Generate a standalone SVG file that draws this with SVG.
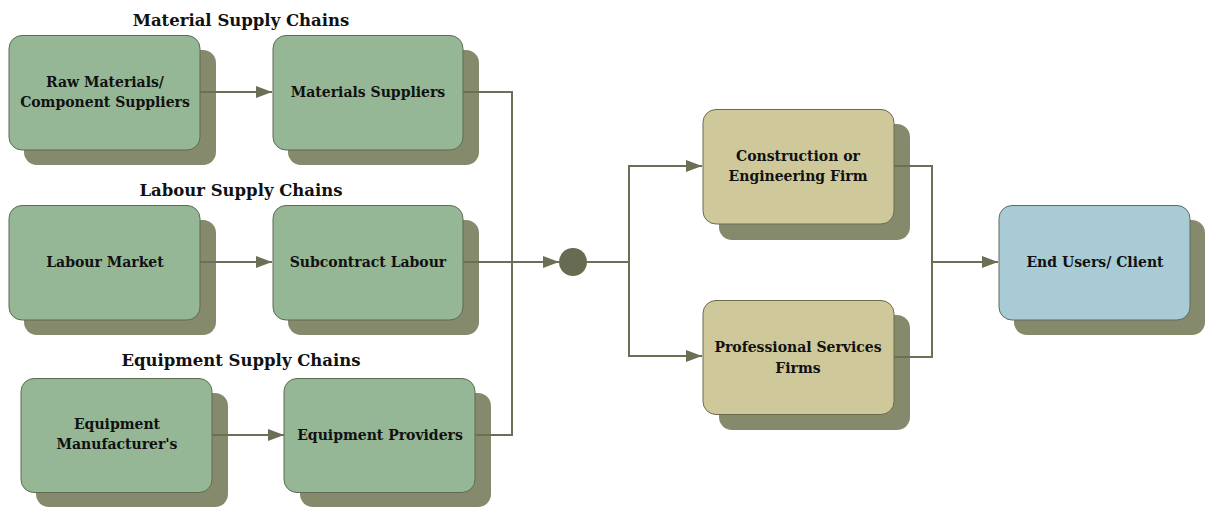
<svg xmlns="http://www.w3.org/2000/svg" width="1205" height="508" viewBox="0 0 1205 508">
<defs>
<style>
.sh{fill:#868a6d;}
.g{fill:#95b795;stroke:#5d6b50;stroke-width:1;}
.t{fill:#cfc89a;stroke:#6b6a4e;stroke-width:1;}
.b{fill:#a8cbd5;stroke:#5d6b60;stroke-width:1;}
.lbl{font-family:"DejaVu Serif","Liberation Serif",serif;font-weight:bold;font-size:14px;fill:#111;text-anchor:middle;}
.ttl{font-family:"DejaVu Serif","Liberation Serif",serif;font-weight:bold;font-size:16.5px;fill:#111;text-anchor:middle;}
.ln{fill:none;stroke:#6b6f55;stroke-width:2;}
</style>
<marker id="ah" markerWidth="16" markerHeight="12" refX="16" refY="6" orient="auto" markerUnits="userSpaceOnUse">
<path d="M0,0 L16,6 L0,12 Z" fill="#6b6f55"/>
</marker>
</defs>
<rect width="1205" height="508" fill="#fff"/>
<g id="titles">
<text class="ttl" x="241" y="26">Material Supply Chains</text>
<text class="ttl" x="241" y="196">Labour Supply Chains</text>
<text class="ttl" x="241" y="366">Equipment Supply Chains</text>
</g>
<g id="n-raw">
<rect class="sh" x="24" y="50" width="192" height="115" rx="13"/>
<rect class="g" x="9" y="35.5" width="191" height="114.5" rx="13"/>
<text class="lbl" x="105" y="87">Raw Materials/</text>
<text class="lbl" x="105" y="107">Component Suppliers</text>
</g>
<g id="n-matsup">
<rect class="sh" x="288" y="50" width="191" height="115" rx="13"/>
<rect class="g" x="273" y="35.5" width="190" height="114.5" rx="13"/>
<text class="lbl" x="368" y="97">Materials Suppliers</text>
</g>
<g id="n-labmkt">
<rect class="sh" x="24" y="220" width="192" height="115" rx="13"/>
<rect class="g" x="9" y="205.5" width="191" height="114.5" rx="13"/>
<text class="lbl" x="105" y="267">Labour Market</text>
</g>
<g id="n-sublab">
<rect class="sh" x="288" y="220" width="191" height="115" rx="13"/>
<rect class="g" x="273" y="205.5" width="190" height="114.5" rx="13"/>
<text class="lbl" x="368" y="267">Subcontract Labour</text>
</g>
<g id="n-eqman">
<rect class="sh" x="36" y="393" width="192" height="114" rx="13"/>
<rect class="g" x="21" y="378.5" width="191" height="114" rx="13"/>
<text class="lbl" x="117" y="429">Equipment</text>
<text class="lbl" x="117" y="449">Manufacturer's</text>
</g>
<g id="n-eqprov">
<rect class="sh" x="300" y="393" width="191" height="114" rx="13"/>
<rect class="g" x="284" y="378.5" width="191" height="114" rx="13"/>
<text class="lbl" x="380" y="440">Equipment Providers</text>
</g>
<g id="n-constr">
<rect class="sh" x="719" y="124" width="191" height="116" rx="13"/>
<rect class="t" x="703" y="109.5" width="191" height="114.5" rx="13"/>
<text class="lbl" x="798" y="161">Construction or</text>
<text class="lbl" x="798" y="181">Engineering Firm</text>
</g>
<g id="n-prof">
<rect class="sh" x="719" y="315" width="191" height="115" rx="13"/>
<rect class="t" x="703" y="300.5" width="191" height="114" rx="13"/>
<text class="lbl" x="798" y="352">Professional Services</text>
<text class="lbl" x="798" y="373">Firms</text>
</g>
<g id="n-end">
<rect class="sh" x="1014" y="220" width="191" height="115" rx="13"/>
<rect class="b" x="999" y="205.5" width="191" height="114.5" rx="13"/>
<text class="lbl" x="1095" y="267">End Users/ Client</text>
</g>
<g id="connectors">
<path class="ln" d="M200,92 H272" marker-end="url(#ah)"/>
<path class="ln" d="M200,262 H272" marker-end="url(#ah)"/>
<path class="ln" d="M212,435 H284" marker-end="url(#ah)"/>
<path class="ln" d="M463,92 H512 V435 H475"/>
<path class="ln" d="M463,262 H559" marker-end="url(#ah)"/>
<path class="ln" d="M587,262 H629"/>
<path class="ln" d="M629,262 V166 H702" marker-end="url(#ah)"/>
<path class="ln" d="M629,262 V356 H702" marker-end="url(#ah)"/>
<path class="ln" d="M894,166 H932 V357 H894"/>
<path class="ln" d="M932,262 H998" marker-end="url(#ah)"/>
</g>
<g id="junction"><circle cx="573" cy="262" r="14" fill="#676b52"/></g>
</svg>
